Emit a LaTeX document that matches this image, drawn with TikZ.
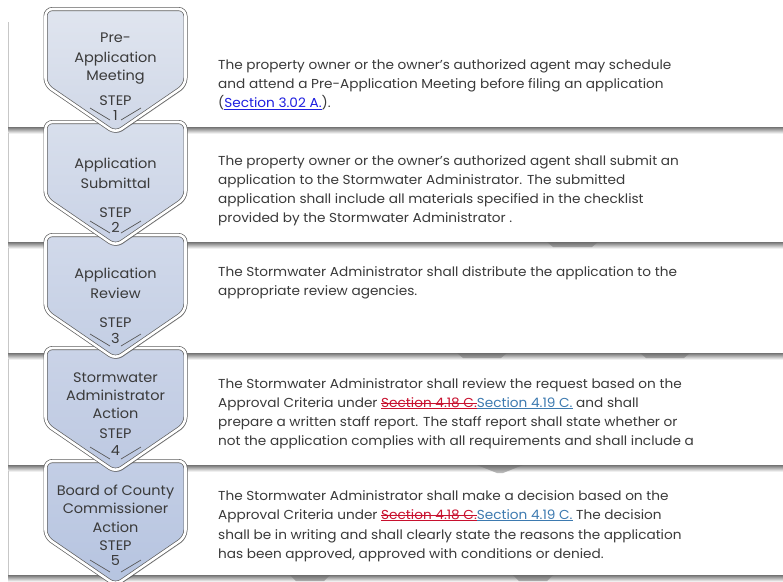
\documentclass[tikz,border=0pt]{standalone}
\usepackage{fontspec}
\setmainfont{Poppins}[FakeStretch=1.05]
\definecolor{txt}{HTML}{3A3A3A}
\definecolor{lnk}{HTML}{1F1FE0}
\definecolor{del}{HTML}{C8102E}
\definecolor{ins}{HTML}{3D7AB0}
\definecolor{outl}{HTML}{5E5E5E}
\definecolor{chvAt}{HTML}{E0E5EF}\definecolor{chvAb}{HTML}{CFD7E7}
\definecolor{chvBt}{HTML}{D8DFEC}\definecolor{chvBb}{HTML}{C9D2E6}
\definecolor{chvCt}{HTML}{D1D9EA}\definecolor{chvCb}{HTML}{C3CEE4}
\definecolor{chvDt}{HTML}{CAD3E7}\definecolor{chvDb}{HTML}{BDC9E2}
\definecolor{chvEt}{HTML}{C3CEE5}\definecolor{chvEb}{HTML}{B6C4E0}
\newsavebox\mybox
\newcommand\ulink[2]{\sbox\mybox{\color{#1}#2}\rlap{\color{#1}\rule[-1.9pt]{\wd\mybox}{0.6pt}}\usebox\mybox}
\newcommand\strk[2]{\sbox\mybox{\color{#1}#2}\rlap{\color{#1}\rule[-1.9pt]{\wd\mybox}{0.6pt}}\rlap{\color{#1}\rule[3.9pt]{\wd\mybox}{0.6pt}}\usebox\mybox}
\begin{document}
\begin{tikzpicture}[x=1pt,y=-1pt,
  body/.style={anchor=base west, inner sep=0pt, font=\fontsize{13}{15}\selectfont, text=txt},
  chtext/.style={anchor=base, inner sep=0pt, font=\fontsize{13.8}{15}\selectfont, text=txt},
  panelshadow/.style={top color=black!55, bottom color=black!6},
  ghost/.style={fill=black!60, opacity=.45},
  chevline/.style={draw=outl, line width=0.7pt, double=white, double distance=2.6pt, rounded corners=7pt, line join=round},
  vline/.style={draw=black!65, line width=0.7pt}]
\useasboundingbox (0,0) rectangle (783,581);
\fill[white] (0,0) rectangle (783,581);
% panels: left edges and bottom shadows
\foreach \tp/\bt in {22/127,133/242,248/353,359/465,471/575}{
  \draw[black!22, line width=1pt] (8,\tp) -- (8,\bt);
  \shade[panelshadow] (8,\bt) rectangle (783,\bt+6);
}
% faint ghost marks in the separators
\fill[ghost] (547,242) -- (598,242) -- (592,247) -- (553,247) -- cycle;
\fill[ghost] (457,353) -- (507,353) -- (501,358) -- (463,358) -- cycle;
\fill[ghost] (640,353) -- (690,353) -- (684,358) -- (646,358) -- cycle;
\fill[ghost] (477,465) -- (523,465) -- (503,473) -- (497,473) -- cycle;
\fill[ghost] (290,575) -- (330,575) -- (324,581) -- (296,581) -- cycle;
\fill[ghost] (513,575) -- (553,575) -- (547,581) -- (519,581) -- cycle;
% chevrons, last first so that each tip lies over the next one
\foreach \t/\ct/\cb in {459/chvEt/chvEb,346/chvDt/chvDb,233/chvCt/chvCb,120/chvBt/chvBb,7/chvAt/chvAb}{
  \pgfmathsetmacro\s{\t+78}
  \pgfmathsetmacro\p{\t+126}
  \pgfmathsetmacro\q{\t+2}
  \pgfmathsetmacro\ya{\p-25}
  \pgfmathsetmacro\yb{\p-13}
  \fill[black, opacity=.28, xshift=1.3pt, yshift=-2pt, rounded corners=7pt]
    (45.5,\s) -- (45.5,\q) -- (185.5,\q) -- (185.5,\s) -- (115.5,\p) -- cycle;
  \shade[top color=\ct, bottom color=\cb, rounded corners=7pt]
    (45.5,\s) -- (45.5,\q) -- (185.5,\q) -- (185.5,\s) -- (115.5,\p) -- cycle;
  \draw[chevline]
    (45.5,\s) -- (45.5,\q) -- (185.5,\q) -- (185.5,\s) -- (115.5,\p) -- cycle;
  \draw[vline] (90,\ya) -- (110,\yb);
  \draw[vline] (121,\yb) -- (141,\ya);
}
% chevron texts
\node[chtext] (c1a) at (115.5,42) {Pre-};
\node[chtext] (c1b) at (115.5,62) {Application};
\node[chtext] (c1c) at (115.5,80) {Meeting};
\node[chtext] (c1s) at (115.5,105) {STEP};
\node[chtext] (c1n) at (115.5,120) {1};
\node[chtext] (c2a) at (115.5,168) {Application};
\node[chtext] (c2b) at (115.5,188) {Submittal};
\node[chtext] (c2s) at (115.5,217) {STEP};
\node[chtext] (c2n) at (115.5,232) {2};
\node[chtext] (c3a) at (115.5,278) {Application};
\node[chtext] (c3b) at (115.5,298) {Review};
\node[chtext] (c3s) at (115.5,327) {STEP};
\node[chtext] (c3n) at (115.5,343) {3};
\node[chtext] (c4a) at (115.5,382) {Stormwater};
\node[chtext] (c4b) at (115.5,400) {Administrator};
\node[chtext] (c4c) at (115.5,418) {Action};
\node[chtext] (c4s) at (115.5,438) {STEP};
\node[chtext] (c4n) at (115.5,455) {4};
\node[chtext] (c5a) at (115.5,495) {Board of County};
\node[chtext] (c5b) at (115.5,513) {Commissioner};
\node[chtext] (c5c) at (115.5,532) {Action};
\node[chtext] (c5s) at (115.5,550) {STEP};
\node[chtext] (c5n) at (115.5,565) {5};
% body texts
\node[body] (t1a) at (218,69.5) {The property owner or the owner’s authorized agent may schedule};
\node[body] (t1b) at (218,88.5) {and attend a Pre-Application Meeting before filing an application};
\node[body] (t1c) at (218,107.5) {(\ulink{lnk}{Section 3.02 A.}).};
\node[body] (t2a) at (218,165) {The property owner or the owner’s authorized agent shall submit an};
\node[body] (t2b) at (218,184.5) {application to the Stormwater Administrator. The submitted};
\node[body] (t2c) at (218,203.5) {application shall include all materials specified in the checklist};
\node[body] (t2d) at (218,222.5) {provided by the Stormwater Administrator .};
\node[body] (t3a) at (218,276) {The Stormwater Administrator shall distribute the application to the};
\node[body] (t3b) at (218,295) {appropriate review agencies.};
\node[body] (t4a) at (218,388) {The Stormwater Administrator shall review the request based on the};
\node[body] (t4b) at (218,407) {Approval Criteria under \strk{del}{Section 4.18 C.}\ulink{ins}{Section 4.19 C.} and shall};
\node[body] (t4c) at (218,426) {prepare a written staff report. The staff report shall state whether or};
\node[body] (t4d) at (218,445) {not the application complies with all requirements and shall include a};
\node[body] (t5a) at (218,500) {The Stormwater Administrator shall make a decision based on the};
\node[body] (t5b) at (218,519) {Approval Criteria under \strk{del}{Section 4.18 C.}\ulink{ins}{Section 4.19 C.} The decision};
\node[body] (t5c) at (218,539) {shall be in writing and shall clearly state the reasons the application};
\node[body] (t5d) at (218,558) {has been approved, approved with conditions or denied.};
\end{tikzpicture}
\end{document}
